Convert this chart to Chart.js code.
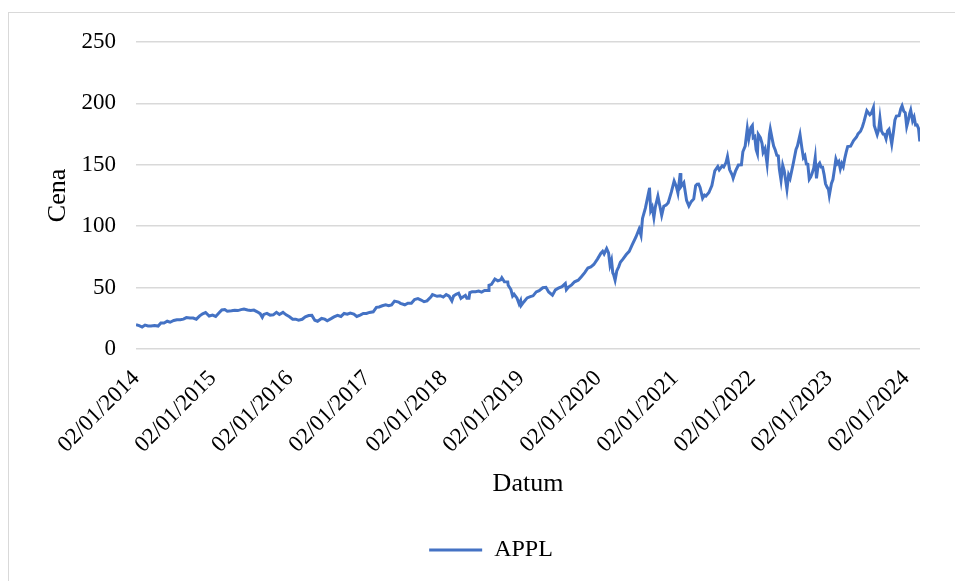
<!DOCTYPE html>
<html>
<head>
    <meta charset="utf-8">
    <title>APPL - Cena</title>
    <script src="https://cdn.jsdelivr.net/npm/chart.js"></script>
    <style>
        body {
            margin: 0;
            background: white;
            overflow: hidden;
        }

        .frame {
            position: absolute;
            left: 8px;
            top: 12px;
            width: 1000px;
            height: 600px;
            border: 1px solid #d9d9d9;
        }

        .wrap {
            position: absolute;
            left: 0;
            top: 0;
            width: 955px;
            height: 581px;
        }
    </style>
</head>

<body>
    <div class="frame"></div>
    <div class="wrap"><canvas id="chart"></canvas></div>

    <script>
        // closing prices (dd/mm/yyyy axis labels)
        var dates = [
            "2014-01-02", "2014-01-17", "2014-01-31", "2014-02-14", "2014-02-28", "2014-03-14", "2014-03-31", "2014-04-17", "2014-04-30", "2014-05-15", "2014-05-30", "2014-06-13", "2014-06-30", "2014-07-15", "2014-07-31", "2014-08-15", "2014-08-29", "2014-09-15", "2014-09-30", "2014-10-15", "2014-10-31", "2014-11-14", "2014-11-28", "2014-12-15", "2014-12-31",
            "2015-01-15", "2015-01-30", "2015-02-13", "2015-02-27", "2015-03-11", "2015-03-31", "2015-04-15", "2015-04-30", "2015-05-15", "2015-05-29", "2015-06-15", "2015-06-30", "2015-07-15", "2015-07-31", "2015-08-14", "2015-08-24", "2015-08-31", "2015-09-15", "2015-09-30", "2015-10-15", "2015-10-30", "2015-11-13", "2015-11-30", "2015-12-15", "2015-12-31",
            "2016-01-15", "2016-01-29", "2016-02-12", "2016-02-29", "2016-03-15", "2016-03-31", "2016-04-15", "2016-04-29", "2016-05-12", "2016-05-31", "2016-06-15", "2016-06-27", "2016-07-15", "2016-07-29", "2016-08-15", "2016-08-31", "2016-09-15", "2016-09-30", "2016-10-14", "2016-10-31", "2016-11-14", "2016-11-30", "2016-12-15", "2016-12-30",
            "2017-01-13", "2017-01-31", "2017-02-15", "2017-02-28", "2017-03-15", "2017-03-31", "2017-04-14", "2017-04-28", "2017-05-12", "2017-05-31", "2017-06-09", "2017-06-30", "2017-07-14", "2017-07-31", "2017-08-15", "2017-08-31", "2017-09-15", "2017-09-29", "2017-10-13", "2017-10-31", "2017-11-08", "2017-11-30", "2017-12-15", "2017-12-29",
            "2018-01-12", "2018-01-26", "2018-02-08", "2018-02-16", "2018-02-28", "2018-03-12", "2018-03-23", "2018-03-29", "2018-04-13", "2018-04-20", "2018-04-30", "2018-05-04", "2018-05-15", "2018-05-31", "2018-06-15", "2018-06-29", "2018-07-13", "2018-07-31", "2018-08-03", "2018-08-15", "2018-08-31", "2018-09-14", "2018-09-28", "2018-10-03", "2018-10-15", "2018-10-31", "2018-11-02", "2018-11-15", "2018-11-23", "2018-11-30", "2018-12-14", "2018-12-24", "2018-12-31",
            "2019-01-03", "2019-01-15", "2019-01-31", "2019-02-15", "2019-02-28", "2019-03-15", "2019-03-29", "2019-04-15", "2019-04-30", "2019-05-13", "2019-05-31", "2019-06-14", "2019-06-28", "2019-07-15", "2019-07-31", "2019-08-05", "2019-08-15", "2019-08-30", "2019-09-13", "2019-09-30", "2019-10-15", "2019-10-31", "2019-11-15", "2019-11-29", "2019-12-13", "2019-12-31",
            "2020-01-15", "2020-01-24", "2020-01-31", "2020-02-12", "2020-02-21", "2020-02-28", "2020-03-06", "2020-03-12", "2020-03-16", "2020-03-23", "2020-03-31", "2020-04-09", "2020-04-17", "2020-04-30", "2020-05-15", "2020-05-29", "2020-06-12", "2020-06-30", "2020-07-15", "2020-07-24", "2020-07-31", "2020-08-14", "2020-08-31", "2020-09-02", "2020-09-08", "2020-09-15", "2020-09-23", "2020-09-30", "2020-10-12", "2020-10-23", "2020-10-30", "2020-11-09", "2020-11-20", "2020-11-30", "2020-12-15", "2020-12-28",
            "2021-01-08", "2021-01-15", "2021-01-26", "2021-01-29", "2021-02-12", "2021-02-25", "2021-03-08", "2021-03-19", "2021-03-31", "2021-04-09", "2021-04-16", "2021-04-23", "2021-04-30", "2021-05-12", "2021-05-21", "2021-05-28", "2021-06-11", "2021-06-25", "2021-07-09", "2021-07-23", "2021-07-30", "2021-08-13", "2021-08-20", "2021-08-31", "2021-09-07", "2021-09-17", "2021-09-30", "2021-10-04", "2021-10-15", "2021-10-29", "2021-11-12", "2021-11-19", "2021-11-30", "2021-12-10", "2021-12-17", "2021-12-27",
            "2022-01-03", "2022-01-07", "2022-01-14", "2022-01-21", "2022-01-27", "2022-01-31", "2022-02-10", "2022-02-18", "2022-02-23", "2022-03-04", "2022-03-14", "2022-03-25", "2022-03-29", "2022-04-08", "2022-04-14", "2022-04-22", "2022-04-29", "2022-05-06", "2022-05-11", "2022-05-19", "2022-05-27", "2022-06-03", "2022-06-10", "2022-06-16", "2022-06-24", "2022-07-01", "2022-07-15", "2022-07-29", "2022-08-05", "2022-08-17", "2022-08-26", "2022-09-02", "2022-09-09", "2022-09-16", "2022-09-23", "2022-09-30", "2022-10-07", "2022-10-13", "2022-10-21", "2022-10-28", "2022-11-03", "2022-11-11", "2022-11-18", "2022-11-25", "2022-12-02", "2022-12-09", "2022-12-16", "2022-12-23", "2022-12-30",
            "2023-01-03", "2023-01-13", "2023-01-20", "2023-01-27", "2023-02-03", "2023-02-10", "2023-02-17", "2023-02-24", "2023-03-03", "2023-03-10", "2023-03-17", "2023-03-24", "2023-03-31", "2023-04-14", "2023-04-28", "2023-05-12", "2023-05-19", "2023-05-31", "2023-06-09", "2023-06-16", "2023-06-30", "2023-07-14", "2023-07-21", "2023-07-31", "2023-08-04", "2023-08-18", "2023-08-25", "2023-08-31", "2023-09-07", "2023-09-15", "2023-09-22", "2023-09-29", "2023-10-06", "2023-10-13", "2023-10-20", "2023-10-26", "2023-11-03", "2023-11-10", "2023-11-17", "2023-11-30", "2023-12-08", "2023-12-14", "2023-12-22", "2023-12-29",
            "2024-01-05", "2024-01-12", "2024-01-19", "2024-01-24", "2024-02-02", "2024-02-09", "2024-02-16", "2024-02-23", "2024-03-01", "2024-03-07", "2024-03-08"
        ];
        var prices = [
            19.8, 19.0, 17.9, 19.5, 18.8, 18.8, 19.2, 18.7, 21.1, 21.2, 22.6, 21.8, 23.2, 23.8, 23.9, 24.3, 25.6, 25.3, 25.2, 24.3, 27.0, 28.7, 29.7, 26.9, 27.6,
            26.5, 29.3, 31.8, 32.1, 30.8, 31.1, 31.6, 31.3, 32.1, 32.6, 31.8, 31.4, 31.7, 30.3, 28.8, 25.8, 28.2, 29.0, 27.6, 27.8, 29.9, 28.1, 29.8, 27.8, 26.3,
            24.3, 24.3, 23.5, 24.2, 26.2, 27.2, 27.4, 23.4, 22.6, 24.9, 24.3, 23.0, 24.7, 26.1, 27.4, 26.5, 28.9, 28.3, 29.3, 28.4, 26.5, 27.6, 28.9, 29.0,
            29.8, 30.3, 33.9, 34.2, 35.2, 35.9, 35.2, 35.9, 39.0, 38.2, 37.2, 36.0, 37.3, 37.2, 40.3, 41.0, 39.9, 38.5, 39.2, 42.3, 44.3, 42.9, 43.4, 42.3,
            44.3, 43.0, 39.1, 43.1, 44.5, 45.4, 41.2, 42.0, 43.7, 41.3, 41.3, 45.9, 46.6, 46.7, 47.2, 46.3, 47.6, 47.6, 51.8, 52.6, 57.0, 55.5, 56.4, 58.0, 54.8, 54.7, 51.9, 48.4, 43.1, 44.6, 41.4, 36.7, 39.4,
            35.5, 38.3, 41.6, 42.6, 43.3, 46.5, 47.5, 49.9, 50.2, 46.4, 43.8, 48.2, 49.5, 50.8, 53.3, 48.3, 50.4, 52.2, 54.7, 56.0, 58.8, 62.2, 66.0, 66.8, 68.8, 73.4,
            77.8, 79.6, 77.4, 81.8, 78.3, 68.3, 72.3, 62.1, 60.6, 56.1, 63.6, 66.9, 70.7, 73.4, 76.9, 79.5, 84.7, 91.2, 97.7, 92.6, 106.3, 114.9, 129.0, 131.4, 112.8, 115.5, 107.1, 115.8, 124.4, 115.0, 108.9, 116.3, 117.3, 119.1, 127.9, 136.7,
            132.1, 127.1, 143.2, 132.0, 135.4, 121.0, 116.4, 120.0, 122.2, 133.0, 134.2, 134.3, 131.5, 122.8, 125.4, 124.6, 127.4, 133.1, 145.1, 148.6, 145.9, 149.1, 148.2, 151.8, 156.7, 146.1, 141.5, 139.1, 144.8, 149.8, 150.0, 160.6, 165.3, 179.5, 171.1, 180.3,
            182.0, 172.2, 173.1, 162.4, 159.2, 174.8, 172.1, 167.3, 160.1, 163.2, 150.6, 174.7, 179.0, 170.1, 165.3, 161.8, 157.7, 157.3, 146.5, 137.4, 149.6, 145.4, 137.1, 130.1, 141.7, 138.9, 150.2, 162.5, 165.4, 174.6, 163.6, 155.8, 157.4, 150.7, 150.4, 138.2, 140.1, 143.0, 147.3, 155.7, 138.9, 149.7, 151.3, 148.1, 148.0, 142.2, 134.5, 131.9, 129.9,
            125.1, 134.8, 138.0, 145.9, 154.5, 151.0, 152.6, 146.7, 151.0, 148.5, 155.0, 160.3, 164.9, 165.2, 169.7, 172.6, 175.2, 177.3, 181.0, 184.9, 194.0, 190.7, 191.9, 196.5, 182.0, 174.5, 178.6, 187.9, 177.6, 175.0, 174.8, 171.2, 177.5, 178.9, 172.9, 166.9, 176.7, 186.4, 189.7, 190.0, 195.7, 198.1, 193.6, 192.5,
            181.2, 185.9, 191.6, 194.5, 185.9, 188.9, 182.3, 182.5, 179.7, 169.0, 170.7
        ];
        var tickYears = [2014, 2015, 2016, 2017, 2018, 2019, 2020, 2021, 2022, 2023, 2024];
        var seriesName = "APPL";

        var start = Date.UTC(2014, 0, 2);
        function dayNum(s) {
            var p = s.split("-");
            return (Date.UTC(+p[0], +p[1] - 1, +p[2]) - start) / 86400000;
        }

        var points = dates.map(function (d, i) {
            return { x: dayNum(d), y: prices[i] };
        });
        var tickDays = tickYears.map(function (y) { return dayNum(y + "-01-02"); });

        var serif = "'Liberation Serif', 'Times New Roman', serif";

        // the legend sits centred under the whole frame, not under the plot
        var legendShift = {
            id: "legendShift",
            afterLayout: function (chart) {
                chart.legend.left = 62;
            }
        };

        new Chart(document.getElementById("chart"), {
            type: "line",
            data: {
                datasets: [{
                    label: seriesName,
                    data: points,
                    borderColor: "#4472C4",
                    backgroundColor: "#4472C4",
                    borderWidth: 3,
                    pointRadius: 0,
                    tension: 0
                }]
            },
            plugins: [legendShift],
            options: {
                responsive: true,
                maintainAspectRatio: false,
                animation: false,
                layout: { padding: { left: 0, right: 35, top: 42, bottom: 9 } },
                plugins: {
                    tooltip: { enabled: false },
                    legend: {
                        position: "bottom",
                        labels: {
                            usePointStyle: true,
                            pointStyle: "line",
                            pointStyleWidth: 53,
                            color: "#000",
                            font: { family: serif, size: 24 }
                        }
                    }
                },
                scales: {
                    x: {
                        type: "linear",
                        min: 0,
                        max: points[points.length - 1].x,
                        grid: { display: false },
                        border: { display: false },
                        afterBuildTicks: function (scale) {
                            scale.ticks = tickDays.map(function (v) { return { value: v }; });
                        },
                        afterFit: function (scale) { scale.height = 179; },
                        ticks: {
                            autoSkip: false,
                            minRotation: 45,
                            maxRotation: 45,
                            padding: 8,
                            color: "#000",
                            font: { family: serif, size: 23 },
                            callback: function (value) {
                                return "02/01/" + (2014 + Math.round(value / 365.25));
                            }
                        },
                        title: {
                            display: true,
                            text: "Datum",
                            color: "#000",
                            font: { family: serif, size: 26 },
                            padding: { top: 0, bottom: 28 }
                        }
                    },
                    y: {
                        min: 0,
                        max: 250,
                        grid: { color: "#d9d9d9", lineWidth: 1.5, drawTicks: false },
                        border: { display: false },
                        afterFit: function (scale) { scale.width = 136; },
                        ticks: {
                            stepSize: 50,
                            padding: 20,
                            color: "#000",
                            font: { family: serif, size: 23 }
                        },
                        title: {
                            display: true,
                            text: "Cena",
                            color: "#000",
                            font: { family: serif, size: 26 },
                            padding: { top: 43, bottom: 0 }
                        }
                    }
                }
            }
        });
    </script>
</body>
</html>
